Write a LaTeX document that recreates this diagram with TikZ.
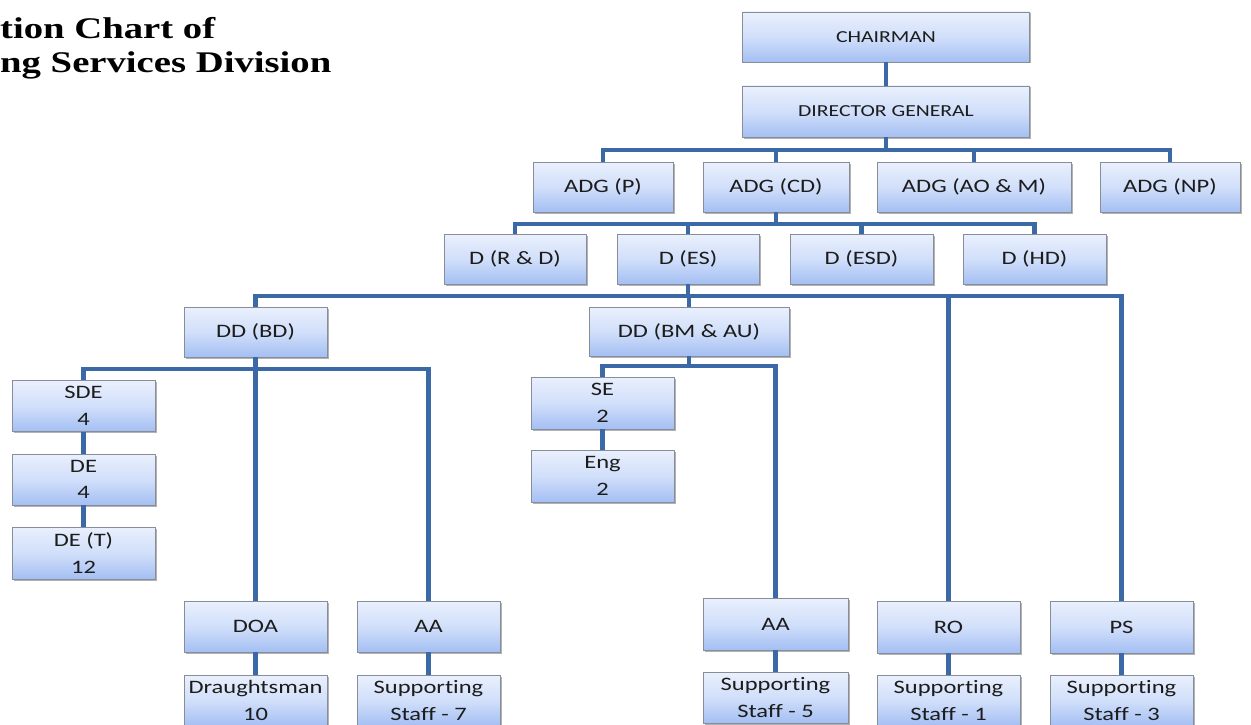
\documentclass[tikz,border=0pt]{standalone}
\usepackage{fontspec}
\newfontfamily\boxfont[FakeStretch=1.29,Ligatures=CommonOff]{Carlito}
\newfontfamily\headfont[FakeStretch=1.29]{Liberation Serif}
\usetikzlibrary{shadows}
\definecolor{boxtop}{RGB}{234,240,253}
\definecolor{boxmid}{RGB}{209,223,250}
\definecolor{boxbottom}{RGB}{164,191,243}
\definecolor{boxline}{RGB}{135,142,154}
\definecolor{linkblue}{RGB}{59,105,166}
\definecolor{labeltext}{RGB}{28,28,28}

\begin{document}
\begin{tikzpicture}[x=1pt,y=1pt,
  unitbox/.style={draw=boxline, line width=0.9pt, top color=boxtop, bottom color=boxbottom,
    middle color=boxmid,
    minimum width=143pt, minimum height=51pt, inner sep=0pt, align=center, text=labeltext,
    font=\boxfont\fontsize{19}{26.5}\selectfont,
    drop shadow={shadow xshift=1.5pt, shadow yshift=-1.5pt, fill=black, opacity=0.3}},
  headbox/.style={unitbox, minimum width=287pt, font=\boxfont\fontsize{16.8}{20}\selectfont},
  link/.style={draw=linkblue, line width=4.2pt},
  heading/.style={anchor=base west, inner sep=0pt, font=\headfont\bfseries\fontsize{30}{36}\selectfont},
]
\useasboundingbox (0,0) rectangle (1251,-725);

% heading
\node[heading] (head1) at (0,-39) {tion Chart of};
\node[heading] (head2) at (0,-73) {ng Services Division};

% top of the hierarchy
\node[headbox, minimum height=50pt] (chair) at (886,-37) {CHAIRMAN};
\node[headbox] (dg) at (886,-111.5) {DIRECTOR GENERAL};

\node[unitbox, minimum width=140pt, minimum height=50pt] (adgP) at (603,-187) {ADG (P)};
\node[unitbox, minimum width=146pt, minimum height=50pt] (adgCD) at (776,-187) {ADG (CD)};
\node[unitbox, minimum width=194pt, minimum height=50pt] (adgAOM) at (974,-187) {ADG (AO \& M)};
\node[unitbox, minimum width=140pt, minimum height=50pt] (adgNP) at (1170,-187) {ADG (NP)};

\node[unitbox, minimum width=142pt, minimum height=50pt] (dRD) at (515,-259) {D (R \& D)};
\node[unitbox, minimum width=142pt, minimum height=50pt] (dES) at (688,-259) {D (ES)};
\node[unitbox, minimum height=50pt] (dESD) at (861.5,-259) {D (ESD)};
\node[unitbox, minimum height=50pt] (dHD) at (1034.5,-259) {D (HD)};

\node[unitbox, minimum height=50pt] (ddBD) at (255.5,-332) {DD (BD)};
\node[unitbox, minimum width=200pt, minimum height=49pt] (ddBM) at (689,-331.5) {DD (BM \& AU)};

% building design branch
\node[unitbox] (sde) at (83.5,-406) {SDE\\4};
\node[unitbox] (de) at (83.5,-479.5) {DE\\4};
\node[unitbox, minimum height=52pt] (det) at (83.5,-553) {DE (T)\\12};
\node[unitbox] (doa) at (255.5,-626.5) {DOA};
\node[unitbox] (aaL) at (428.5,-626.5) {AA};
\node[unitbox] (drm) at (255.5,-700.5) {Draughtsman\\10};
\node[unitbox] (ss7) at (428.5,-700.5) {Supporting\\Staff - 7};

% building management branch
\node[unitbox, minimum height=52pt] (se) at (602.5,-403) {SE\\2};
\node[unitbox, minimum height=52pt] (eng) at (602.5,-476) {Eng\\2};
\node[unitbox, minimum width=145pt, minimum height=52pt] (aaM) at (775.5,-624) {AA};
\node[unitbox, minimum width=145pt] (ss5) at (775.5,-697.5) {Supporting\\Staff - 5};

% office staff
\node[unitbox, minimum height=52pt] (ro) at (948.5,-627) {RO};
\node[unitbox, minimum height=52pt] (ps) at (1121.5,-627) {PS};
\node[unitbox] (ss1) at (948.5,-700.5) {Supporting\\Staff - 1};
\node[unitbox] (ss3) at (1121.5,-700.5) {Supporting\\Staff - 3};

% bus lines
\coordinate (b1) at (0,-150);
\coordinate (b2) at (0,-224);
\coordinate (b3) at (0,-296);
\coordinate (b4) at (0,-369);
\coordinate (b5) at (0,-366);

\draw[link] (chair) -- (dg);
\draw[link] (dg.south) -- (dg.south |- b1);
\draw[link] (adgP.north) -- (adgP.north |- b1) -- (adgNP.north |- b1) -- (adgNP.north);
\draw[link] (adgCD.north) -- (adgCD.north |- b1);
\draw[link] (adgAOM.north) -- (adgAOM.north |- b1);

\draw[link] (adgCD.south) -- (adgCD.south |- b2);
\draw[link] (dRD.north) -- (dRD.north |- b2) -- (dHD.north |- b2) -- (dHD.north);
\draw[link] (dES.north) -- (dES.north |- b2);
\draw[link] (dESD.north) -- (dESD.north |- b2);

\draw[link] (dES.south) -- (dES.south |- b3);
\draw[link] (ddBD.north) -- (ddBD.north |- b3) -- (ps.north |- b3) -- (ps.north);
\draw[link] (ddBM.north) -- (ddBM.north |- b3);
\draw[link] (ro.north) -- (ro.north |- b3);

\draw[link] (ddBD.south) -- (ddBD.south |- b4);
\draw[link] (sde.north) -- (sde.north |- b4) -- (aaL.north |- b4) -- (aaL.north);
\draw[link] (doa.north) -- (doa.north |- b4);
\draw[link] (sde) -- (de);
\draw[link] (de) -- (det);

\draw[link] (ddBM.south) -- (ddBM.south |- b5);
\draw[link] (se.north) -- (se.north |- b5) -- (aaM.north |- b5) -- (aaM.north);
\draw[link] (se) -- (eng);

\draw[link] (doa) -- (drm);
\draw[link] (aaL) -- (ss7);
\draw[link] (aaM) -- (ss5);
\draw[link] (ro) -- (ss1);
\draw[link] (ps) -- (ss3);
\end{tikzpicture}
\end{document}
